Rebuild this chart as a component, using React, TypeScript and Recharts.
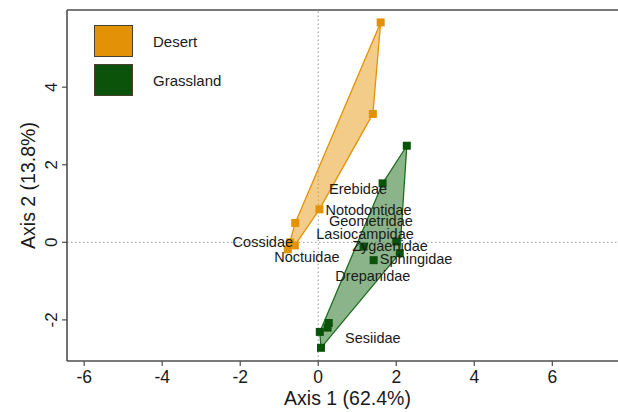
import { ScatterChart, Scatter, XAxis, YAxis, ReferenceLine } from 'recharts';

// Ordination scores
const desertX = [1.6, 1.4, 0.03, -0.59, -0.72, -0.6, -0.78];
const desertY = [5.67, 3.31, 0.85, 0.5, 0.0, -0.08, -0.18];

const grassX = [2.27, 1.65, 2.0, 2.09, 1.42, 1.16, 0.27, 0.24, 0.04, 0.07];
const grassY = [2.49, 1.52, 0.02, -0.28, -0.46, -0.11, -2.08, -2.2, -2.31, -2.72];

// family labels (vectors drawn as text only)
const families = ['Erebidae', 'Notodontidae', 'Geometridae', 'Lasiocampidae', 'Zygaenidae', 'Sphingidae', 'Drepanidae', 'Sesiidae', 'Cossidae', 'Noctuidae'];
const famX = [1.02, 1.29, 1.35, 1.2, 1.84, 2.51, 1.4, 1.4, -1.42, -0.29];
const famY = [1.38, 0.83, 0.55, 0.21, -0.09, -0.43, -0.86, -2.47, 0.01, -0.38];

const groups = ['Desert', 'Grassland'];
const groupColors = ['#E39207', '#0B520B'];

const xTicks = [-6, -4, -2, 0, 2, 4, 6];
const yTicks = [-2, 0, 2, 4];

const desert = desertX.map((x, i) => ({ x, y: desertY[i] }));
const grass = grassX.map((x, i) => ({ x, y: grassY[i] }));
const famData = families.map((name, i) => ({ name, x: famX[i], y: famY[i] }));

const FONT = '"Liberation Sans", Arial, Helvetica, sans-serif';
const AXIS = '#4d4d4d';

// monotone chain convex hull on pixel points
function hull(pts: { x: number; y: number }[]) {
    const p = [...pts].sort((a, b) => a.x - b.x || a.y - b.y);
    const cross = (o: any, a: any, b: any) => (a.x - o.x) * (b.y - o.y) - (a.y - o.y) * (b.x - o.x);
    const lower: any[] = [];
    for (const q of p) {
        while (lower.length >= 2 && cross(lower[lower.length - 2], lower[lower.length - 1], q) <= 0) lower.pop();
        lower.push(q);
    }
    const upper: any[] = [];
    for (const q of p.reverse()) {
        while (upper.length >= 2 && cross(upper[upper.length - 2], upper[upper.length - 1], q) <= 0) upper.pop();
        upper.push(q);
    }
    return lower.slice(0, -1).concat(upper.slice(0, -1));
}

const hullLine = (fill: string, stroke: string) => (props: any) => {
    const h = hull(props.points || []);
    if (!h.length) return <g />;
    const d = h.map((q: any, i: number) => `${i ? 'L' : 'M'}${q.x},${q.y}`).join(' ') + ' Z';
    return <path d={d} fill={fill} fillOpacity={0.5} stroke={stroke} strokeWidth={1.3} strokeLinejoin="round" />;
};

const YTick = ({ x, y, payload }: any) => (
    <text transform={`translate(${x - 3},${y}) rotate(-90)`} textAnchor="middle" fontSize={17} fontFamily={FONT} fill="#1a1a1a">
        {payload.value}
    </text>
);

const FamLabel = ({ cx, cy, payload }: any) => (
    <text x={cx} y={cy} textAnchor="middle" dominantBaseline="central" fontSize={14.5} fontFamily={FONT} fill="#1a1a1a">
        {payload.name}
    </text>
);

export default function App() {
    return (
        <div style={{ position: 'absolute', left: 0, top: 0, width: 618, height: 412, overflow: 'hidden', background: '#fff' }}>
            <ScatterChart width={628} height={412} margin={{ top: 10, right: 0, bottom: 0, left: 0 }}>
                <XAxis
                    type="number"
                    dataKey="x"
                    domain={[-6.44, 7.94]}
                    ticks={xTicks}
                    allowDataOverflow
                    height={51}
                    tickSize={5}
                    tickMargin={5}
                    axisLine={{ stroke: AXIS, strokeWidth: 1.6 }}
                    tickLine={{ stroke: AXIS, strokeWidth: 1.2 }}
                    tick={{ fontSize: 17.5, fontFamily: FONT, fill: '#1a1a1a' }}
                    label={{ value: 'Axis 1 (62.4%)', position: 'insideBottom', offset: 7, fontSize: 19.5, fontFamily: FONT, fill: '#1a1a1a' }}
                />
                <YAxis
                    type="number"
                    dataKey="y"
                    domain={[-3.06, 5.99]}
                    ticks={yTicks}
                    allowDataOverflow
                    width={67}
                    tickSize={5}
                    tickMargin={2}
                    axisLine={{ stroke: AXIS, strokeWidth: 1.6 }}
                    tickLine={{ stroke: AXIS, strokeWidth: 1.2 }}
                    tick={<YTick />}
                    label={({ viewBox }: any) => (
                        <text
                            transform={`translate(35,${viewBox.y + viewBox.height / 2}) rotate(-90)`}
                            textAnchor="middle"
                            fontSize={19.5}
                            fontFamily={FONT}
                            fill="#1a1a1a"
                        >
                            Axis 2 (13.8%)
                        </text>
                    )}
                />
                <ReferenceLine y={5.99} stroke={AXIS} strokeWidth={1.6} />
                <ReferenceLine x={0} stroke="#9a9a9a" strokeDasharray="1.5 2.5" />
                <ReferenceLine y={0} stroke="#9a9a9a" strokeDasharray="1.5 2.5" />
                <Scatter
                    name="Desert"
                    data={desert}
                    fill={groupColors[0]}
                    shape="square"
                    line={hullLine('#E69A12', groupColors[0])}
                    isAnimationActive={false}
                />
                <Scatter
                    name="Grassland"
                    data={grass}
                    fill={groupColors[1]}
                    shape="square"
                    line={hullLine('#176A17', '#1F6E1F')}
                    isAnimationActive={false}
                />
                <Scatter
                    name="Families"
                    data={famData}
                    fill="#1a1a1a"
                    shape={<FamLabel />}
                    isAnimationActive={false}
                />
            </ScatterChart>
            {/* legend box, top left inside the plot */}
            <div style={{ position: 'absolute', left: 94, top: 25, fontFamily: FONT, fontSize: 15, color: '#1a1a1a' }}>
                {groups.map((g, i) => (
                    <div key={g} style={{ display: 'flex', alignItems: 'center', marginBottom: 7 }}>
                        <div style={{ width: 37, height: 30, background: groupColors[i], border: '1px solid #4a4030' }} />
                        <span style={{ marginLeft: 20 }}>{g}</span>
                    </div>
                ))}
            </div>
        </div>
    );
}
